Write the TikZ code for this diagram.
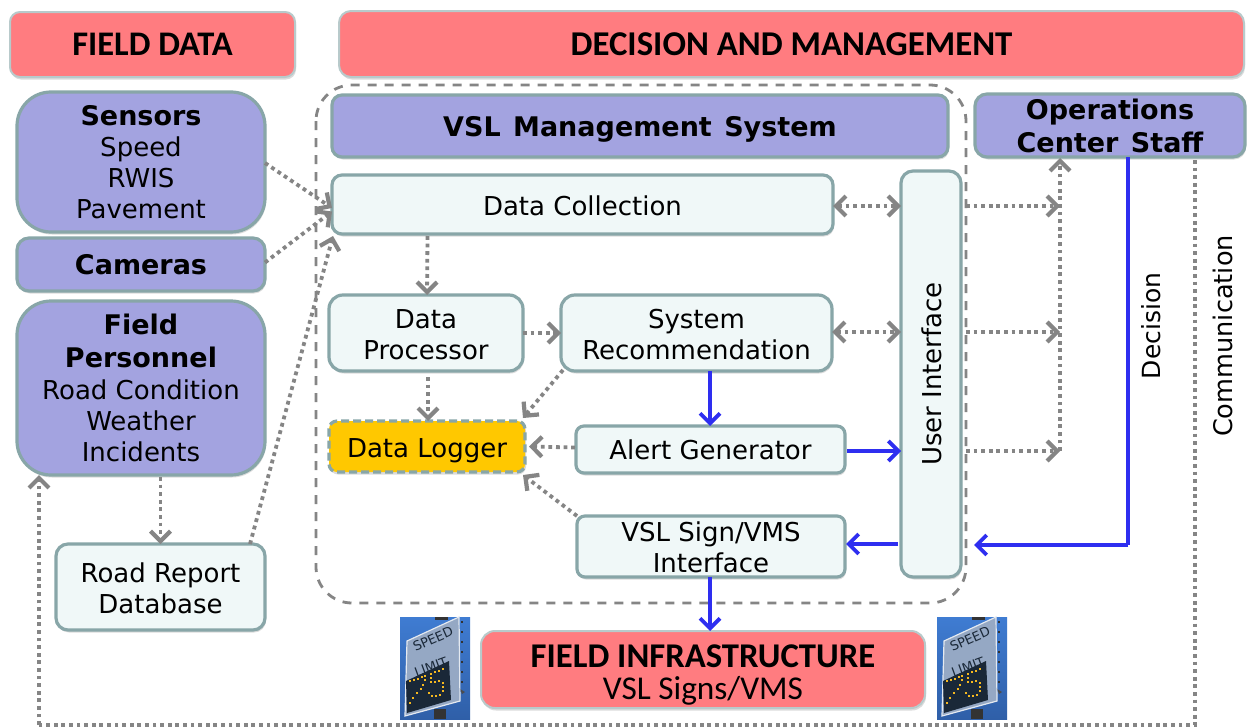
\documentclass[tikz,border=0pt]{standalone}
\usepackage{fontspec}
\setmainfont{DejaVu Sans}
\newfontfamily\headfont{Carlito}
\usetikzlibrary{arrows.meta,shadows,calc}
\definecolor{edgeteal}{HTML}{88A6A8}
\definecolor{purplefill}{HTML}{A3A3E0}
\definecolor{palefill}{HTML}{F0F8F8}
\definecolor{redfill}{HTML}{FF7C80}
\definecolor{goldfill}{HTML}{FFC800}
\definecolor{bluearrow}{HTML}{2E2EF0}
\definecolor{greyline}{HTML}{858585}
\definecolor{skytop}{HTML}{3F7CD2}
\definecolor{skymid}{HTML}{5A96EC}
\definecolor{skylow}{HTML}{2F5FA8}
\definecolor{plategrey}{HTML}{95A8C4}
\definecolor{panelnavy}{HTML}{1A2838}
\definecolor{ledorange}{HTML}{F5B820}
\tikzset{
  boxbase/.style={draw=edgeteal,line width=3.2pt,inner sep=0pt,outer sep=0pt,align=center,
    font=\fontsize{26}{31}\selectfont,
    drop shadow={shadow xshift=1pt,shadow yshift=-2.5pt,opacity=.28}},
  purplebox/.style={boxbase,fill=purplefill},
  palebox/.style={boxbase,fill=palefill},
  redbox/.style={boxbase,fill=redfill,draw=edgeteal!60,line width=2pt},
  logbox/.style={boxbase,fill=goldfill,dash pattern=on 8pt off 4pt},
  sized/.style n args={3}{minimum width=#1pt,minimum height=#2pt,rounded corners=#3pt},
  dotline/.style={draw=greyline,line width=3.8pt,dash pattern=on 3.8pt off 3.8pt},
  dotarrow/.style={dotline,-{Straight Barb[length=10pt,width=20pt,line width=4.2pt]}},
  dotboth/.style={dotline,{Straight Barb[length=10pt,width=20pt,line width=4.2pt]}-{Straight Barb[length=10pt,width=20pt,line width=4.2pt]}},
  bluelink/.style={draw=bluearrow,line width=3.6pt,-{Straight Barb[length=10pt,width=20pt,line width=3.8pt]}},
  bluerun/.style={draw=bluearrow,line width=3.6pt},
  labeltext/.style={font=\fontsize{26}{31}\selectfont,inner sep=0pt},
}
\newcommand{\bfline}[1]{{\fontsize{27}{31}\selectfont\bfseries #1}}
% makes a first line taller, so that the block sits lower in its box by #1 pt
\newcommand{\pushdown}[1]{\rule{0pt}{\dimexpr 20pt+2\dimexpr #1pt\relax\relax}}
\newcommand{\speedsign}[2]{%
 \begin{scope}[shift={(#1,#2)}]
  \shade[top color=skytop,middle color=skymid,bottom color=skylow] (0,0) rectangle (70,102);
  \fill[black!80] (34,92) rectangle (46,102);
  \fill[black!80] (35,0) rectangle (48,3);
  \fill[black!70] (60,72) -- (65,75) -- (62,77) -- cycle;
  \foreach \ty in {4,14,24,34,44,54,64}{\fill[black!80] (60.5,\ty) rectangle (62.5,\ty+2);}
  \filldraw[fill=plategrey,draw=white!75!plategrey,line width=1.2pt] (7,24) -- (59,0) -- (60,84) -- (5,99) -- cycle;
  \node[rotate=24,inner sep=0pt,text=panelnavy,font=\fontsize{13}{13}\selectfont] (speed#1) at (33,22) {SPEED};
  \node[rotate=20,inner sep=0pt,text=panelnavy,font=\fontsize{13}{13}\selectfont] (limit#1) at (31,50) {LIMIT};
  \fill[panelnavy] (6,64) -- (49,44) -- (51,83) -- (7,96) -- cycle;
  \foreach \px/\py in {10/64,14/63,18/62,22/60,25/59,25/63,23/68,21/72,17/76,13/81,10/86,
    31/57,35/55,39/54,43/52,31/61,31/65,35/65,39/64,43/66,43/70,43/74,40/78,36/79,32/79,29/76}{
    \fill[ledorange] (\px-1.3,\py-1.3) rectangle (\px+1.3,\py+1.3);}
 \end{scope}}
\begin{document}
\begin{tikzpicture}[x=1pt,y=-1pt]
\useasboundingbox (0,0) rectangle (1248,728);
\fill[white] (0,0) rectangle (1248,728);

% dashed container
\draw[greyline,line width=2.8pt,dash pattern=on 9pt off 8pt,rounded corners=36pt] (316,85) rectangle (966,603);

% headers
\node[redbox,sized={285}{65}{10}] (fielddata) at (152.5,44.5) {\headfont\fontsize{34.5}{38}\selectfont\bfseries FIELD DATA};
\node[redbox,sized={905}{66}{12}] (decision) at (791.5,44) {\headfont\fontsize{34.8}{38}\selectfont\bfseries DECISION AND MANAGEMENT};

% field data
\node[purplebox,sized={248}{140}{34}] (sensors) at (141,162) {\bfline{Sensors}\\Speed\\RWIS\\Pavement};
\node[purplebox,sized={248}{53}{12}] (cameras) at (141,264.5) {\bfline{Cameras}};
\node[purplebox,sized={248}{174}{34}] (personnel) at (141,388) {\bfline{Field}\\[2pt]\bfline{Personnel}\\[1pt]Road Condition\\Weather\\Incidents};
\node[palebox,sized={209}{86}{12}] (report) at (160.5,587) {\pushdown{1}Road Report\\Database};

% decision and management
\node[purplebox,sized={616}{62}{10}] (vsl) at (640,126) {\pushdown{3.5}\bfline{VSL\hspace{3pt} Management\hspace{3pt} System}};
\node[purplebox,sized={270}{63}{12}] (ops) at (1110,125.5) {\bfline{Operations}\\[2pt]\bfline{Center\hspace{3pt} Staff}};
\node[palebox,sized={501}{59}{10}] (collect) at (582.5,204.5) {\pushdown{1}Data Collection};
\node[palebox,sized={194}{76}{14}] (processor) at (426,333) {\pushdown{1.5}Data\\Processor};
\node[palebox,sized={271}{76}{14}] (recommend) at (696.5,333) {\pushdown{1}System\\Recommendation};
\node[logbox,sized={196}{51}{8}] (logger) at (427,446.5) {\pushdown{3.5}Data Logger};
\node[palebox,sized={269}{47}{8}] (alert) at (710.5,449.5) {Alert Generator};
\node[palebox,sized={268}{61}{8}] (signif) at (711,546.5) {\pushdown{1}VSL Sign/VMS\\Interface};
\node[palebox,sized={60}{406}{12}] (ui) at (931,374) {};
\node[labeltext,rotate=90] (uilabel) at (932,374) {User Interface};
\node[redbox,sized={444}{77}{14}] (infra) at (703,669.5) {\rule{0pt}{33pt}{\headfont\fontsize{34.7}{38}\selectfont\bfseries FIELD INFRASTRUCTURE}\\[1pt]{\headfont\fontsize{33.3}{39}\selectfont VSL Signs/VMS}};

% sign pictures
\speedsign{400}{617}
\speedsign{937}{617}

% free ends
\coordinate (opsin) at (1060,158);
\coordinate (busa) at (1060,206);
\coordinate (busb) at (1060,332);
\coordinate (busc) at (1060,451);
\coordinate (decorner) at (1128,545);
\coordinate (comcornera) at (1195,725);
\coordinate (comcornerb) at (39,725);

% field data links
\draw[dotarrow] (sensors.east) ++(0,1) -- ($(collect.west)+(0,3.5)$);
\draw[dotarrow] (cameras.east) ++(0,-2) -- ($(collect.west)+(0,7)$);
\draw[dotarrow] (personnel.south -| report.north) ++(0,2) -- (report.north);
\draw[dotarrow] ($(report.north east)+(-15,0)$) -- ($(collect.south west)+(1,2)$);

% data flow
\draw[dotarrow] ($(collect.south)+(-155,2)$) -- (processor.north -| 427,0);
\draw[dotarrow] (processor.east) -- (recommend.west);
\draw[dotarrow] (428,377) -- (logger.north -| 428,0);
\draw[dotarrow] ($(recommend.south west)+(2,-1)$) -- ($(logger.north east)+(-2,-3)$);
\draw[dotarrow] ($(alert.west)+(-1,-2)$) -- ($(logger.east)+(4,0)$);
\draw[dotarrow] ($(signif.north west)+(0,0)$) -- ($(logger.south east)+(-2,3)$);
\draw[dotboth] (collect.east) ++(0,1.5) -- ($(ui.west |- collect.east)+(0,1.5)$);
\draw[dotboth] (recommend.east) ++(0,-1) -- ($(ui.west |- recommend.east)+(0,-1)$);

% blue links
\draw[bluelink] (recommend.south -| 710,0) -- (alert.north -| 710,0);
\draw[bluelink] (alert.east) ++(2,1.5) -- ($(ui.west |- alert.east)+(0,1.5)$);
\draw[bluelink] ($(ui.west |- signif.east)+(-3,-2.5)$) -- ($(signif.east)+(1,-2.5)$);
\draw[bluelink] (signif.south -| 710,0) -- (infra.north -| 710,0);

% operations links
\draw[dotarrow] (busc) -- (opsin);
\draw[dotarrow] ($(ui.east |- busa)+(5,0)$) -- (busa);
\draw[dotarrow] ($(ui.east |- busb)+(5,0)$) -- (busb);
\draw[dotarrow] ($(ui.east |- busc)+(5,0)$) -- (busc);
\draw[bluerun] (ops.south -| 1128,0) -- (decorner);
\draw[bluelink] (decorner) -- ($(ui.east |- decorner)+(13,0)$);
\draw[dotline] (ops.south -| 1195,0) ++(0,3) -- (comcornera) -- (comcornerb);
\draw[dotarrow] (comcornerb) -- (personnel.south -| comcornerb);

% link labels
\node[labeltext,rotate=90] (declabel) at (1151,326) {\fontsize{25}{30}\selectfont Decision};
\node[labeltext,rotate=90] (comlabel) at (1223,336) {\fontsize{25.6}{30}\selectfont Communication};
\end{tikzpicture}
\end{document}
